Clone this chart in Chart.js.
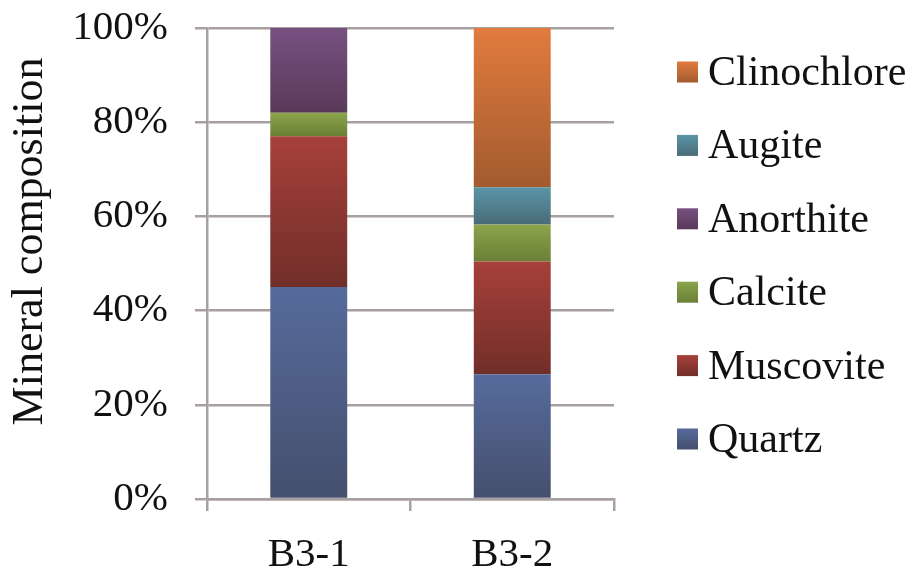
<!DOCTYPE html>
<html lang="en">
<head>
    <meta charset="UTF-8">
    <title>Mineral composition</title>
    <script src="https://cdn.jsdelivr.net/npm/chart.js"></script>
    <style>
        html, body { margin: 0; padding: 0; background: #fff; }
        #wrap { width: 915px; height: 572px; }
    </style>
</head>
<body>
    <div id="wrap"><canvas id="mineralChart" width="915" height="572"></canvas></div>
    <script>
        // values (percent)
        const categories = ['B3-1', 'B3-2'];
        const minerals = ['Quartz', 'Muscovite', 'Calcite', 'Anorthite', 'Augite', 'Clinochlore'];
        const quartz      = [45, 26.5];
        const muscovite   = [32, 23.9];
        const calcite     = [5, 7.9];
        const anorthite   = [18, 0];
        const augite      = [0, 7.9];
        const clinochlore = [0, 33.8];
        const yTicks = [0, 20, 40, 60, 80, 100];

        const series = [quartz, muscovite, calcite, anorthite, augite, clinochlore];

        // top / bottom colours of the shaded bars
        const topColors    = ['#566b9c', '#a7403a', '#8ba54c', '#775181', '#5b95a6', '#e27b3e'];
        const bottomColors = ['#454f6d', '#712e29', '#6a7f35', '#593959', '#496b78', '#a25b2f'];

        const gridGrey = '#a8a0a0';
        const textColor = '#111';
        const serif = 'Liberation Serif';

        function segmentFill(dsIndex) {
            return function (ctx) {
                const chart = ctx.chart;
                if (ctx.type !== 'data' || !chart.chartArea || !chart.scales.y) {
                    return topColors[dsIndex];
                }
                const i = ctx.dataIndex;
                let start = 0;
                for (let k = 0; k < dsIndex; k++) start += series[k][i];
                const end = start + series[dsIndex][i];
                const y = chart.scales.y;
                const yTop = y.getPixelForValue(end);
                const yBot = y.getPixelForValue(start);
                if (!isFinite(yTop) || !isFinite(yBot) || yTop === yBot) return topColors[dsIndex];
                const g = chart.ctx.createLinearGradient(0, yTop, 0, yBot);
                g.addColorStop(0, topColors[dsIndex]);
                g.addColorStop(1, bottomColors[dsIndex]);
                return g;
            };
        }

        // legend drawn in the right margin, top entry = last dataset
        const sideLegend = {
            id: 'sideLegend',
            afterDraw(chart) {
                const ctx = chart.ctx;
                const area = chart.chartArea;
                const boxX = area.right + 63;
                const textX = area.right + 94;
                const firstY = 72;
                const step = 73.4;
                const box = 21;
                ctx.save();
                ctx.font = '42px "' + serif + '"';
                ctx.fillStyle = textColor;
                ctx.textBaseline = 'middle';
                ctx.textAlign = 'left';
                const n = chart.data.datasets.length;
                chart.data.datasets.forEach((ds, k) => {
                    const row = n - 1 - k;
                    const cy = firstY + row * step;
                    const g = ctx.createLinearGradient(0, cy - box / 2, 0, cy + box / 2);
                    g.addColorStop(0, topColors[k]);
                    g.addColorStop(1, bottomColors[k]);
                    ctx.fillStyle = g;
                    ctx.fillRect(boxX, cy - box / 2, box, box);
                    ctx.fillStyle = textColor;
                    ctx.fillText(ds.label, textX, cy + 2);
                });
                ctx.restore();
            }
        };

        const datasets = minerals.map((name, k) => ({
            label: name,
            data: series[k],
            backgroundColor: segmentFill(k),
            borderWidth: 0,
            barPercentage: 0.378,
            categoryPercentage: 1.0
        }));

        new Chart(document.getElementById('mineralChart'), {
            type: 'bar',
            data: { labels: categories, datasets: datasets },
            plugins: [sideLegend],
            options: {
                responsive: false,
                animation: false,
                layout: { padding: { top: 28, right: 301, bottom: 0, left: 0 } },
                plugins: {
                    tooltip: { enabled: false },
                    legend: { display: false }
                },
                scales: {
                    x: {
                        stacked: true,
                        offset: true,
                        afterFit: function (axis) {
                            axis.height = 73;
                            axis.paddingLeft = 0;
                            axis.paddingRight = 0;
                        },
                        grid: {
                            offset: true,
                            drawOnChartArea: false,
                            drawTicks: true,
                            tickLength: 12,
                            color: gridGrey,
                            lineWidth: 2.5
                        },
                        border: { color: gridGrey, width: 2.5 },
                        ticks: {
                            color: textColor,
                            font: { family: serif, size: 41 },
                            padding: 20
                        }
                    },
                    y: {
                        stacked: true,
                        min: 0,
                        max: 100,
                        afterBuildTicks: function (axis) {
                            axis.ticks = yTicks.map(v => ({ value: v }));
                        },
                        afterFit: function (axis) {
                            axis.width = 207;
                            axis.paddingTop = 0;
                            axis.paddingBottom = 0;
                        },
                        grid: {
                            color: gridGrey,
                            lineWidth: 2.5,
                            tickLength: 12
                        },
                        border: { color: gridGrey, width: 2.5 },
                        ticks: {
                            color: textColor,
                            font: { family: serif, size: 41 },
                            padding: 27,
                            callback: v => v + '%'
                        },
                        title: {
                            display: true,
                            text: '    Mineral composition',
                            color: textColor,
                            font: { family: serif, size: 44 },
                            padding: { top: 4, bottom: 0 }
                        }
                    }
                }
            }
        });
    </script>
</body>
</html>
